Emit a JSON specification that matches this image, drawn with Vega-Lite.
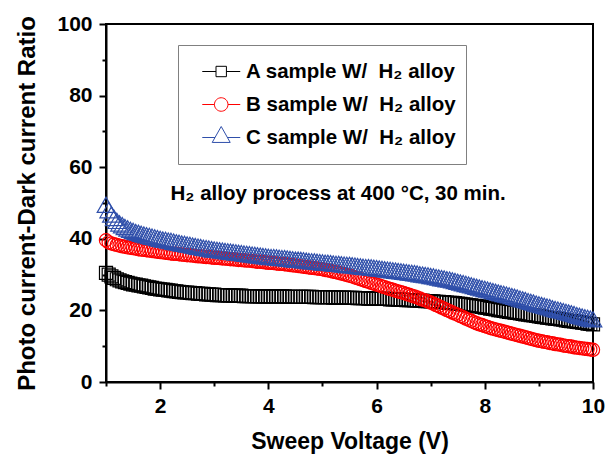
{
"$schema": "https://vega.github.io/schema/vega-lite/v6.json",
"width": 487, "height": 358,
"autosize": {"type": "none"},
"padding": {"left": 106, "top": 24, "right": 13, "bottom": 75},
"background": "white",
"config": {
  "view": {"stroke": "black", "strokeWidth": 2},
  "font": "Liberation Sans",
  "axis": {"grid": false, "domainColor": "black", "domainWidth": 2, "tickColor": "black", "tickWidth": 2,
    "labelFont": "Liberation Sans", "labelFontWeight": "bold", "labelFontSize": 21, "labelColor": "black",
    "titleFont": "Liberation Sans", "titleFontWeight": "bold", "titleFontSize": 23, "titleColor": "black"}
},
"data": {"values": [
{"v":1.00,"A":30.5,"B":39.6,"C":49.5},{"v":1.05,"A":30.0,"B":39.0,"C":48.0},{"v":1.10,"A":29.5,"B":38.7,"C":46.8},{"v":1.15,"A":29.1,"B":38.5,"C":45.8},
{"v":1.20,"A":28.7,"B":38.3,"C":45.0},{"v":1.25,"A":28.4,"B":38.1,"C":44.3},{"v":1.30,"A":28.1,"B":37.9,"C":43.8},{"v":1.35,"A":27.9,"B":37.8,"C":43.3},
{"v":1.40,"A":27.7,"B":37.6,"C":42.9},{"v":1.45,"A":27.5,"B":37.5,"C":42.5},{"v":1.50,"A":27.3,"B":37.4,"C":42.2},{"v":1.55,"A":27.2,"B":37.3,"C":41.9},
{"v":1.60,"A":27.0,"B":37.1,"C":41.7},{"v":1.65,"A":26.9,"B":37.0,"C":41.4},{"v":1.70,"A":26.7,"B":36.9,"C":41.2},{"v":1.75,"A":26.6,"B":36.8,"C":41.0},
{"v":1.80,"A":26.4,"B":36.7,"C":40.8},{"v":1.85,"A":26.3,"B":36.6,"C":40.6},{"v":1.90,"A":26.1,"B":36.5,"C":40.4},{"v":1.95,"A":26.0,"B":36.4,"C":40.2},
{"v":2.00,"A":25.9,"B":36.3,"C":40.0},{"v":2.05,"A":25.8,"B":36.2,"C":39.8},{"v":2.10,"A":25.7,"B":36.1,"C":39.7},{"v":2.15,"A":25.6,"B":36.0,"C":39.5},
{"v":2.20,"A":25.5,"B":35.9,"C":39.4},{"v":2.25,"A":25.4,"B":35.8,"C":39.2},{"v":2.30,"A":25.3,"B":35.8,"C":39.0},{"v":2.35,"A":25.2,"B":35.7,"C":38.9},
{"v":2.40,"A":25.1,"B":35.6,"C":38.7},{"v":2.45,"A":25.0,"B":35.5,"C":38.6},{"v":2.50,"A":25.0,"B":35.4,"C":38.4},{"v":2.55,"A":24.9,"B":35.4,"C":38.3},
{"v":2.60,"A":24.8,"B":35.3,"C":38.1},{"v":2.65,"A":24.8,"B":35.2,"C":38.0},{"v":2.70,"A":24.7,"B":35.1,"C":37.8},{"v":2.75,"A":24.6,"B":35.1,"C":37.7},
{"v":2.80,"A":24.6,"B":35.0,"C":37.5},{"v":2.85,"A":24.5,"B":34.9,"C":37.4},{"v":2.90,"A":24.5,"B":34.9,"C":37.3},{"v":2.95,"A":24.4,"B":34.8,"C":37.1},
{"v":3.00,"A":24.4,"B":34.7,"C":37.0},{"v":3.05,"A":24.3,"B":34.7,"C":36.9},{"v":3.10,"A":24.3,"B":34.6,"C":36.8},{"v":3.15,"A":24.3,"B":34.5,"C":36.7},
{"v":3.20,"A":24.2,"B":34.5,"C":36.6},{"v":3.25,"A":24.2,"B":34.4,"C":36.5},{"v":3.30,"A":24.2,"B":34.3,"C":36.4},{"v":3.35,"A":24.1,"B":34.3,"C":36.3},
{"v":3.40,"A":24.1,"B":34.2,"C":36.2},{"v":3.45,"A":24.1,"B":34.1,"C":36.1},{"v":3.50,"A":24.1,"B":34.1,"C":36.0},{"v":3.55,"A":24.0,"B":34.0,"C":35.9},
{"v":3.60,"A":24.0,"B":33.9,"C":35.8},{"v":3.65,"A":24.0,"B":33.9,"C":35.7},{"v":3.70,"A":24.0,"B":33.8,"C":35.6},{"v":3.75,"A":24.0,"B":33.7,"C":35.5},
{"v":3.80,"A":23.9,"B":33.6,"C":35.4},{"v":3.85,"A":23.9,"B":33.6,"C":35.3},{"v":3.90,"A":23.9,"B":33.5,"C":35.2},{"v":3.95,"A":23.9,"B":33.4,"C":35.1},
{"v":4.00,"A":23.9,"B":33.3,"C":35.0},{"v":4.05,"A":23.9,"B":33.3,"C":34.9},{"v":4.10,"A":23.9,"B":33.2,"C":34.9},{"v":4.15,"A":23.9,"B":33.1,"C":34.8},
{"v":4.20,"A":23.9,"B":33.0,"C":34.7},{"v":4.25,"A":23.9,"B":33.0,"C":34.6},{"v":4.30,"A":23.9,"B":32.9,"C":34.6},{"v":4.35,"A":23.8,"B":32.8,"C":34.5},
{"v":4.40,"A":23.8,"B":32.7,"C":34.4},{"v":4.45,"A":23.8,"B":32.6,"C":34.3},{"v":4.50,"A":23.8,"B":32.5,"C":34.2},{"v":4.55,"A":23.8,"B":32.4,"C":34.2},
{"v":4.60,"A":23.8,"B":32.3,"C":34.1},{"v":4.65,"A":23.8,"B":32.2,"C":34.0},{"v":4.70,"A":23.8,"B":32.1,"C":33.9},{"v":4.75,"A":23.8,"B":32.0,"C":33.8},
{"v":4.80,"A":23.8,"B":31.9,"C":33.7},{"v":4.85,"A":23.7,"B":31.8,"C":33.7},{"v":4.90,"A":23.7,"B":31.7,"C":33.6},{"v":4.95,"A":23.7,"B":31.6,"C":33.5},
{"v":5.00,"A":23.7,"B":31.5,"C":33.4},{"v":5.05,"A":23.7,"B":31.3,"C":33.3},{"v":5.10,"A":23.7,"B":31.2,"C":33.3},{"v":5.15,"A":23.7,"B":31.0,"C":33.2},
{"v":5.20,"A":23.6,"B":30.8,"C":33.1},{"v":5.25,"A":23.6,"B":30.7,"C":33.0},{"v":5.30,"A":23.6,"B":30.5,"C":33.0},{"v":5.35,"A":23.6,"B":30.3,"C":32.9},
{"v":5.40,"A":23.6,"B":30.1,"C":32.8},{"v":5.45,"A":23.5,"B":29.9,"C":32.7},{"v":5.50,"A":23.5,"B":29.7,"C":32.7},{"v":5.55,"A":23.5,"B":29.5,"C":32.6},
{"v":5.60,"A":23.5,"B":29.2,"C":32.5},{"v":5.65,"A":23.4,"B":29.0,"C":32.4},{"v":5.70,"A":23.4,"B":28.7,"C":32.3},{"v":5.75,"A":23.4,"B":28.5,"C":32.2},
{"v":5.80,"A":23.4,"B":28.2,"C":32.1},{"v":5.85,"A":23.3,"B":28.0,"C":32.1},{"v":5.90,"A":23.3,"B":27.7,"C":32.0},{"v":5.95,"A":23.3,"B":27.5,"C":31.9},
{"v":6.00,"A":23.3,"B":27.2,"C":31.8},{"v":6.05,"A":23.2,"B":27.0,"C":31.7},{"v":6.10,"A":23.2,"B":26.7,"C":31.6},{"v":6.15,"A":23.2,"B":26.5,"C":31.5},
{"v":6.20,"A":23.2,"B":26.2,"C":31.4},{"v":6.25,"A":23.1,"B":26.0,"C":31.3},{"v":6.30,"A":23.1,"B":25.8,"C":31.2},{"v":6.35,"A":23.1,"B":25.5,"C":31.1},
{"v":6.40,"A":23.0,"B":25.3,"C":31.0},{"v":6.45,"A":23.0,"B":25.1,"C":30.9},{"v":6.50,"A":23.0,"B":24.9,"C":30.8},{"v":6.55,"A":22.9,"B":24.6,"C":30.7},
{"v":6.60,"A":22.9,"B":24.4,"C":30.6},{"v":6.65,"A":22.9,"B":24.1,"C":30.5},{"v":6.70,"A":22.8,"B":23.9,"C":30.4},{"v":6.75,"A":22.8,"B":23.6,"C":30.3},
{"v":6.80,"A":22.7,"B":23.3,"C":30.1},{"v":6.85,"A":22.7,"B":23.0,"C":30.0},{"v":6.90,"A":22.6,"B":22.8,"C":29.9},{"v":6.95,"A":22.6,"B":22.5,"C":29.8},
{"v":7.00,"A":22.5,"B":22.2,"C":29.6},{"v":7.05,"A":22.5,"B":21.9,"C":29.5},{"v":7.10,"A":22.4,"B":21.5,"C":29.3},{"v":7.15,"A":22.4,"B":21.2,"C":29.2},
{"v":7.20,"A":22.3,"B":20.8,"C":29.0},{"v":7.25,"A":22.3,"B":20.5,"C":28.9},{"v":7.30,"A":22.2,"B":20.1,"C":28.7},{"v":7.35,"A":22.1,"B":19.8,"C":28.6},
{"v":7.40,"A":22.1,"B":19.4,"C":28.4},{"v":7.45,"A":22.0,"B":19.1,"C":28.2},{"v":7.50,"A":21.9,"B":18.8,"C":28.0},{"v":7.55,"A":21.8,"B":18.4,"C":27.8},
{"v":7.60,"A":21.7,"B":18.1,"C":27.6},{"v":7.65,"A":21.6,"B":17.7,"C":27.4},{"v":7.70,"A":21.5,"B":17.4,"C":27.2},{"v":7.75,"A":21.4,"B":17.1,"C":27.0},
{"v":7.80,"A":21.3,"B":16.7,"C":26.8},{"v":7.85,"A":21.2,"B":16.4,"C":26.6},{"v":7.90,"A":21.1,"B":16.1,"C":26.4},{"v":7.95,"A":21.0,"B":15.9,"C":26.2},
{"v":8.00,"A":20.8,"B":15.6,"C":26.0},{"v":8.05,"A":20.7,"B":15.4,"C":25.8},{"v":8.10,"A":20.5,"B":15.1,"C":25.6},{"v":8.15,"A":20.4,"B":14.9,"C":25.4},
{"v":8.20,"A":20.3,"B":14.7,"C":25.2},{"v":8.25,"A":20.1,"B":14.5,"C":25.0},{"v":8.30,"A":20.0,"B":14.3,"C":24.8},{"v":8.35,"A":19.9,"B":14.1,"C":24.6},
{"v":8.40,"A":19.7,"B":13.9,"C":24.4},{"v":8.45,"A":19.6,"B":13.7,"C":24.2},{"v":8.50,"A":19.5,"B":13.5,"C":24.0},{"v":8.55,"A":19.4,"B":13.3,"C":23.8},
{"v":8.60,"A":19.3,"B":13.1,"C":23.6},{"v":8.65,"A":19.2,"B":12.9,"C":23.3},{"v":8.70,"A":19.0,"B":12.7,"C":23.1},{"v":8.75,"A":18.9,"B":12.5,"C":22.9},
{"v":8.80,"A":18.8,"B":12.3,"C":22.6},{"v":8.85,"A":18.7,"B":12.1,"C":22.4},{"v":8.90,"A":18.6,"B":11.9,"C":22.2},{"v":8.95,"A":18.5,"B":11.7,"C":21.9},
{"v":9.00,"A":18.3,"B":11.5,"C":21.7},{"v":9.05,"A":18.2,"B":11.4,"C":21.5},{"v":9.10,"A":18.1,"B":11.2,"C":21.3},{"v":9.15,"A":18.0,"B":11.1,"C":21.1},
{"v":9.20,"A":17.9,"B":10.9,"C":20.9},{"v":9.25,"A":17.8,"B":10.8,"C":20.6},{"v":9.30,"A":17.7,"B":10.6,"C":20.4},{"v":9.35,"A":17.6,"B":10.5,"C":20.2},
{"v":9.40,"A":17.5,"B":10.4,"C":20.0},{"v":9.45,"A":17.4,"B":10.2,"C":19.8},{"v":9.50,"A":17.2,"B":10.1,"C":19.6},{"v":9.55,"A":17.1,"B":10.0,"C":19.4},
{"v":9.60,"A":17.0,"B":9.9,"C":19.2},{"v":9.65,"A":16.9,"B":9.7,"C":19.0},{"v":9.70,"A":16.8,"B":9.6,"C":18.7},{"v":9.75,"A":16.7,"B":9.5,"C":18.5},
{"v":9.80,"A":16.6,"B":9.4,"C":18.3},{"v":9.85,"A":16.5,"B":9.3,"C":18.1},{"v":9.90,"A":16.3,"B":9.2,"C":17.9},{"v":9.95,"A":16.2,"B":9.1,"C":17.7},
{"v":10.00,"A":16.1,"B":9.0,"C":17.5}
]},
"resolve": {"axis": {"x": "independent", "y": "independent"}},
"layer": [
  {
    "transform": [{"fold": ["A", "B", "C"], "as": ["s", "r"]}, {"filter": "datum.s === 'A'"}],
    "mark": {"type": "point", "shape": "square", "filled": false, "size": 170, "strokeWidth": 1.2, "opacity": 1, "color": "#000000"},
    "encoding": {
      "x": {"field": "v", "type": "quantitative", "scale": {"domain": [1, 10], "nice": false, "zero": false},
        "axis": {"orient": "bottom", "values": [2, 4, 6, 8, 10], "tickSize": 7, "labelPadding": 6, "labelFlush": false, "title": "Sweep Voltage (V)", "titlePadding": 14}},
      "y": {"field": "r", "type": "quantitative", "scale": {"domain": [0, 100], "nice": false},
        "axis": {"orient": "left", "values": [0, 20, 40, 60, 80, 100], "tickSize": 7, "labelPadding": 7, "labelFlush": false, "title": "Photo current-Dark current Ratio", "titlePadding": 17, "titleFontSize": 24}}
    }
  },
  {
    "transform": [{"fold": ["A", "B", "C"], "as": ["s", "r"]}, {"filter": "datum.s === 'B'"}],
    "mark": {"type": "point", "shape": "circle", "filled": false, "size": 175, "strokeWidth": 1.2, "opacity": 1, "color": "#ff0000"},
    "encoding": {
      "x": {"field": "v", "type": "quantitative", "axis": null},
      "y": {"field": "r", "type": "quantitative", "axis": null}
    }
  },
  {
    "transform": [{"fold": ["A", "B", "C"], "as": ["s", "r"]}, {"filter": "datum.s === 'C'"}],
    "mark": {"type": "point", "shape": "triangle-up", "filled": false, "size": 310, "strokeWidth": 1.2, "opacity": 1, "color": "#2f4faa"},
    "encoding": {
      "x": {"field": "v", "type": "quantitative", "axis": null},
      "y": {"field": "r", "type": "quantitative", "axis": null}
    }
  },
  {
    "transform": [{"fold": ["A", "B", "C"], "as": ["s", "r"]}],
    "mark": {"type": "point", "filled": false, "opacity": 0, "size": 2704},
    "encoding": {
      "x": {"field": "v", "type": "quantitative",
        "axis": {"orient": "bottom", "values": [1, 3, 5, 7, 9], "tickSize": 4, "labels": false, "domain": false, "title": null}},
      "y": {"field": "r", "type": "quantitative",
        "axis": {"orient": "left", "values": [10, 30, 50, 70, 90], "tickSize": 4, "labels": false, "domain": false, "title": null}},
      "color": {"field": "s", "type": "nominal",
        "scale": {"domain": ["A", "B", "C"], "range": ["#000000", "#ff0000", "#2f4faa"]},
        "legend": {"orient": "none", "legendX": 72, "legendY": 21, "title": null, "strokeColor": "#808080", "padding": 10,
          "symbolSize": 2704, "symbolStrokeWidth": 1, "symbolFillColor": "transparent", "clipHeight": 33, "rowPadding": 0,
          "labelOffset": 5, "labelFont": "Liberation Sans", "labelFontSize": 20.5, "labelFontWeight": "bold", "labelColor": "black", "labelLimit": 400,
          "labelExpr": "datum.label === 'A' ? 'A sample W/\u00a0 H\u2082 alloy\u00a0\u00a0' : datum.label === 'B' ? 'B sample W/\u00a0 H\u2082 alloy\u00a0\u00a0' : 'C sample W/\u00a0 H\u2082 alloy\u00a0\u00a0'"}},
      "shape": {"field": "s", "type": "nominal",
        "scale": {"domain": ["A", "B", "C"], "range": [
          "M-0.47,0H0.058M0.458,0H0.99M0.058,-0.2H0.458V0.2H0.058Z",
          "M-0.47,0H-0.002M0.518,0H0.99M-0.002,0A0.26,0.26 0 1,1 0.518,0A0.26,0.26 0 1,1 -0.002,0Z",
          "M-0.47,0H0.019M0.497,0H0.99M0.258,-0.423L0.604,0.19L-0.088,0.19Z"]},
        "legend": {"orient": "none", "legendX": 72, "legendY": 21, "title": null, "strokeColor": "#808080", "padding": 10,
          "symbolSize": 2704, "symbolStrokeWidth": 1, "symbolFillColor": "transparent", "clipHeight": 33, "rowPadding": 0,
          "labelOffset": 5, "labelFont": "Liberation Sans", "labelFontSize": 20.5, "labelFontWeight": "bold", "labelColor": "black", "labelLimit": 400,
          "labelExpr": "datum.label === 'A' ? 'A sample W/\u00a0 H\u2082 alloy\u00a0\u00a0' : datum.label === 'B' ? 'B sample W/\u00a0 H\u2082 alloy\u00a0\u00a0' : 'C sample W/\u00a0 H\u2082 alloy\u00a0\u00a0'"}}
    }
  },
  {
    "data": {"values": [{"t": "H\u2082 alloy process at 400 \u00b0C, 30 min."}]},
    "mark": {"type": "text", "font": "Liberation Sans", "fontWeight": "bold", "fontSize": 20.5, "align": "center", "baseline": "alphabetic", "color": "black"},
    "encoding": {
      "x": {"datum": 5.29, "type": "quantitative", "axis": null},
      "y": {"datum": 50.8, "type": "quantitative", "axis": null},
      "text": {"field": "t", "type": "nominal"}
    }
  }
]
}
